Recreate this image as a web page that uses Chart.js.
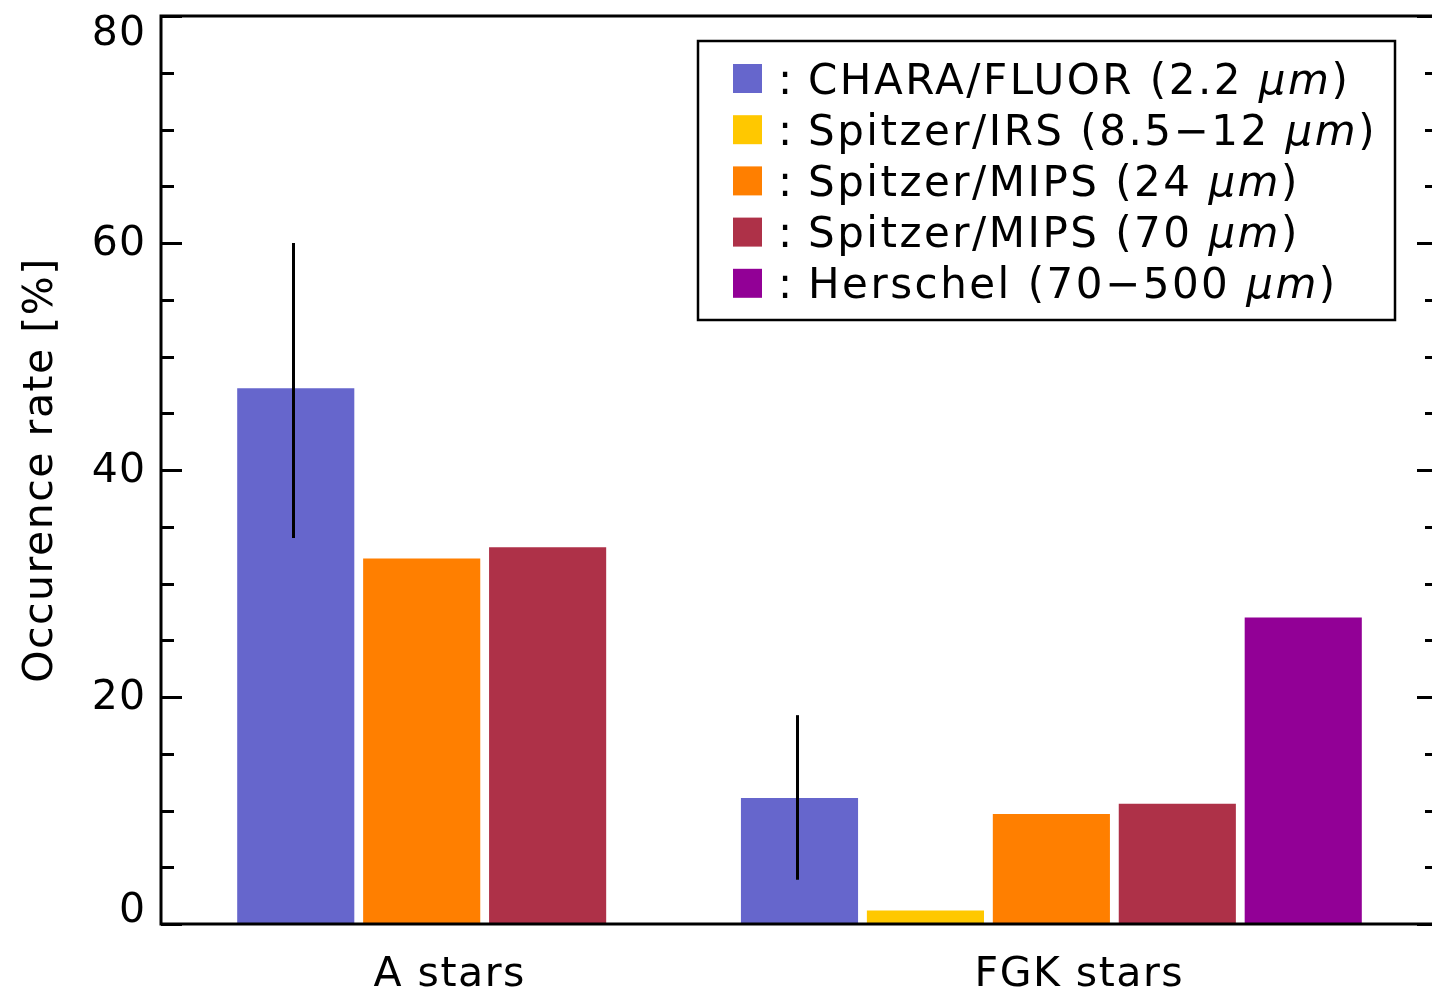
<!DOCTYPE html>
<html>
<head>
<meta charset="utf-8">
<title>Occurence rate of excesses</title>
<script src="https://cdn.jsdelivr.net/npm/chart.js@4.4.1/dist/chart.umd.min.js"></script>
<style>
  html, body { margin: 0; padding: 0; background: #ffffff; overflow: hidden; }
  #wrap { width: 1450px; height: 994px; }
</style>
</head>
<body>
<div id="wrap"><canvas id="c" width="1450" height="994"></canvas></div>
<script>
// ---- data ----
const groups = ['A stars', 'FGK stars'];
const seriesNames = [
  'CHARA/FLUOR (2.2 μm)',
  'Spitzer/IRS (8.5−12 μm)',
  'Spitzer/MIPS (24 μm)',
  'Spitzer/MIPS (70 μm)',
  'Herschel (70−500 μm)'
];
const charaFluor = [47.2, 11.1];
const spitzerIrs = [null, 1.2];
const mips24     = [32.2, 9.7];
const mips70     = [33.2, 10.6];
const herschel   = [null, 27.0];
// CHARA/FLUOR uncertainty range (lower, upper) per group
const charaErrLow  = [34.0, 3.9];
const charaErrHigh = [60.0, 18.4];
const yTickLabels = [0, 20, 40, 60, 80];

// ---- styling ----
const seriesColors = ['#6666CC', '#FFC800', '#FF7F00', '#AE3148', '#920096'];
const FONT = 'DejaVu Sans';
const TEXT_SIZE = 41;
const LEGEND_SIZE = 42;

// Each bar gets its own slot on the x axis; groups are separated by one empty slot.
const seriesValues = [charaFluor, spitzerIrs, mips24, mips70, herschel];
const slots = seriesValues.map(() => []);
const groupCenters = [];
let slot = 1;
groups.forEach((g, gi) => {
  const used = [];
  seriesValues.forEach((vals, si) => {
    if (vals[gi] !== null) { slots[si][gi] = slot; used.push(slot); slot++; }
  });
  groupCenters.push((used[0] + used[used.length - 1]) / 2);
  slot++;
});

const datasets = seriesNames.map((name, si) => ({
  label: name,
  data: groups
    .map((g, gi) => seriesValues[si][gi] === null ? null : { x: slots[si][gi], y: seriesValues[si][gi] })
    .filter(Boolean),
  backgroundColor: seriesColors[si],
  borderWidth: 0,
  grouped: false,
  barPercentage: 0.93,
  categoryPercentage: 1.0
}));

// Frame, inward tick marks, y labels, error bars and boxed legend
const decorations = {
  id: 'decorations',
  beforeDraw(chart) {
    chart.ctx.letterSpacing = '1.5px';
  },
  afterDatasetsDraw(chart) {
    const ctx = chart.ctx;
    const xs = chart.scales.x, ys = chart.scales.y;
    ctx.save();
    ctx.strokeStyle = '#000000';
    ctx.lineWidth = 3;
    ctx.lineCap = 'butt';
    groups.forEach((g, gi) => {
      const x = Math.round(xs.getPixelForValue(slots[0][gi])) - 2.5;
      ctx.beginPath();
      ctx.moveTo(x, ys.getPixelForValue(charaErrLow[gi]));
      ctx.lineTo(x, ys.getPixelForValue(charaErrHigh[gi]));
      ctx.stroke();
    });
    ctx.restore();
  },
  afterDraw(chart) {
    const ctx = chart.ctx;
    const a = chart.chartArea;
    const ys = chart.scales.y;
    ctx.save();
    ctx.strokeStyle = '#000000';
    ctx.lineWidth = 3;

    // inward ticks on left and right axes
    ys.ticks.forEach(t => {
      const y = Math.round(ys.getPixelForValue(t.value)) + 0.5;
      const major = yTickLabels.includes(t.value);
      const len = major ? 21 : 13;
      ctx.beginPath();
      ctx.moveTo(a.left, y); ctx.lineTo(a.left + len, y);
      ctx.moveTo(a.right, y); ctx.lineTo(a.right - len, y);
      ctx.stroke();
    });

    // plot frame
    ctx.strokeRect(a.left, a.top, a.right - a.left, a.bottom - a.top);

    // y tick labels, kept inside the axis range at both ends
    ctx.fillStyle = '#000000';
    ctx.font = `${TEXT_SIZE}px "${FONT}"`;
    ctx.letterSpacing = '1px';
    ctx.textAlign = 'right';
    ctx.textBaseline = 'middle';
    yTickLabels.forEach(v => {
      let y = ys.getPixelForValue(v);
      y = Math.min(Math.max(y, a.top + 17), a.bottom - 14);
      ctx.fillText(String(v), 146, y + 1);
    });

    // legend box
    const L = chart.options.plugins.decorations;
    ctx.lineWidth = 2.5;
    ctx.strokeRect(L.left, L.top, L.width, L.height);
    ctx.letterSpacing = '2.5px';
    ctx.textAlign = 'left';
    ctx.textBaseline = 'alphabetic';
    chart.data.datasets.forEach((ds, i) => {
      const cy = L.top + L.firstRow + i * L.rowGap;
      ctx.fillStyle = ds.backgroundColor;
      ctx.fillRect(L.left + 35, cy - 14.5, 29, 29);
      ctx.fillStyle = '#000000';
      const base = cy + 15;
      ctx.font = `${LEGEND_SIZE}px "${FONT}"`;
      ctx.fillText(':', L.left + 80, base);
      const parts = ds.label.split('μm');
      let x = L.left + 110;
      ctx.fillText(parts[0], x, base);
      x += ctx.measureText(parts[0]).width;
      if (parts.length > 1) {
        ctx.font = `italic ${LEGEND_SIZE}px "${FONT}"`;
        ctx.fillText('μm', x, base);
        x += ctx.measureText('μm').width;
        ctx.font = `${LEGEND_SIZE}px "${FONT}"`;
        ctx.fillText(parts[1], x, base);
      }
    });
    ctx.restore();
  }
};

Chart.defaults.font.family = FONT;
Chart.defaults.color = '#000000';

new Chart(document.getElementById('c'), {
  type: 'bar',
  data: { datasets },
  options: {
    responsive: false,
    animation: false,
    layout: { padding: { left: 0, top: 16, right: 12, bottom: 0 } },
    plugins: {
      legend: { display: false },
      tooltip: { enabled: false },
      decorations: { left: 698, top: 41, width: 697, height: 279, firstRow: 37.5, rowGap: 51.2 }
    },
    scales: {
      x: {
        type: 'linear',
        offset: false,
        min: -0.07,
        max: 10.07,
        grid: { display: false, drawTicks: false },
        border: { display: false },
        afterBuildTicks(scale) {
          scale.ticks = groupCenters.map(v => ({ value: v }));
        },
        afterFit(scale) { scale.height = 70; },
        ticks: {
          font: { size: TEXT_SIZE },
          color: '#000000',
          padding: 27,
          labelOffset: 28,
          maxRotation: 0,
          autoSkip: false,
          callback(value) {
            const i = groupCenters.indexOf(value);
            return i >= 0 ? groups[i] : '';
          }
        }
      },
      y: {
        min: 0,
        max: 80,
        grid: { display: false, drawTicks: false },
        border: { display: false },
        afterFit(scale) { scale.width = 161; },
        ticks: { display: false, stepSize: 5 },
        title: {
          display: true,
          text: 'Occurence rate [%]',
          font: { size: TEXT_SIZE },
          color: '#000000',
          padding: { top: 17, bottom: 0 }
        }
      }
    }
  },
  plugins: [decorations]
});
</script>
</body>
</html>
